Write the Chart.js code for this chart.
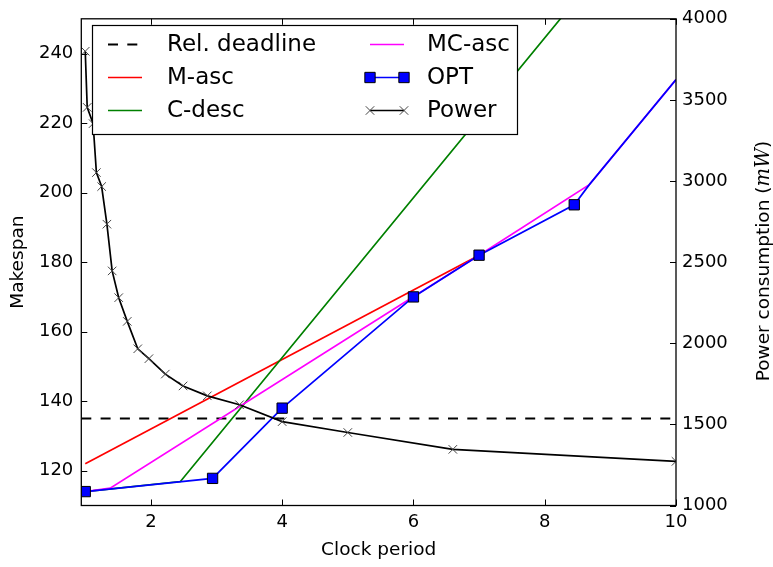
<!DOCTYPE html>
<html>
<head>
<meta charset="utf-8">
<script src="https://cdn.jsdelivr.net/npm/chart.js@4.4.0/dist/chart.umd.min.js"></script>
<style>
  html, body { margin: 0; padding: 0; background: #fff; }
</style>
</head>
<body>
<canvas id="chart" width="773" height="567"></canvas>
<script>
  // axis ranges / ticks
  const xMin = 0.94, xMax = 10;
  const xTicks = [2, 4, 6, 8, 10];
  const yTicks = [120, 140, 160, 180, 200, 220, 240];
  const y2Ticks = [1000, 1500, 2000, 2500, 3000, 3500, 4000];

  // series
  const deadlineX = [xMin, xMax];
  const deadlineY = [135, 135];

  const mAscX = [1, 7];
  const mAscY = [122, 182];

  const cDescX = [1, 2.45, 10];
  const cDescY = [114, 116.9, 290.5];

  const mcAscX = [1, 1.38, 7, 8.68, 10];
  const mcAscY = [114, 115, 182, 202.3, 232.5];

  const optX = [1, 2.94, 4, 6, 7, 8.45, 8.68, 10];
  const optY = [114, 117.8, 138, 170, 182, 196.5, 202.3, 232.5];
  const optMarker = [1, 1, 1, 1, 1, 1, 0, 0];

  const powerX = [1, 1.03, 1.12, 1.17, 1.25, 1.33, 1.41, 1.51, 1.64, 1.8, 1.97, 2.22, 2.49, 2.86, 3.35, 4, 5, 6.6, 10];
  const powerY = [3800, 3454, 3354, 3052, 2966, 2734, 2446, 2281, 2135, 1966, 1905, 1810, 1737, 1676, 1621, 1517, 1450, 1346, 1272];

  const pts = (xs, ys) => xs.map((x, i) => ({ x: x, y: ys[i] }));
  const FONT = '"DejaVu Sans", sans-serif';

  // inward ticks + frame, like matplotlib
  const frameTicks = {
    id: 'frameTicks',
    afterDatasetsDraw(chart) {
      const { ctx, chartArea: a, scales } = chart;
      const len = 6;
      ctx.save();
      ctx.strokeStyle = '#000';
      ctx.lineWidth = 1;
      ctx.beginPath();
      xTicks.forEach(v => {
        const px = Math.round(scales.x.getPixelForValue(v)) + 0.5;
        ctx.moveTo(px, a.bottom); ctx.lineTo(px, a.bottom - len);
        ctx.moveTo(px, a.top); ctx.lineTo(px, a.top + len);
      });
      yTicks.forEach(v => {
        const py = Math.round(scales.y.getPixelForValue(v)) + 0.5;
        ctx.moveTo(a.left, py); ctx.lineTo(a.left + len, py);
      });
      y2Ticks.forEach(v => {
        const py = Math.round(scales.y2.getPixelForValue(v)) + 0.5;
        ctx.moveTo(a.right, py); ctx.lineTo(a.right - len, py);
      });
      ctx.stroke();
      ctx.lineWidth = 1.3;
      ctx.strokeRect(a.left, a.top, a.right - a.left, a.bottom - a.top);
      ctx.restore();
    }
  };

  // two-column legend inside the plot + right axis title
  const boxLegend = {
    id: 'boxLegend',
    afterDraw(chart) {
      const ctx = chart.ctx;
      const sets = chart.data.datasets;
      ctx.save();
      ctx.fillStyle = '#fff';
      ctx.fillRect(92.5, 25.5, 425, 109);
      ctx.strokeStyle = '#000';
      ctx.lineWidth = 1.2;
      ctx.strokeRect(92.5, 25.5, 425, 109);
      ctx.font = '23px ' + FONT;
      ctx.textBaseline = 'middle';
      const handleX = [108, 370], textX = [167, 427], rowY = [44.5, 77.5, 110.5];
      sets.forEach((ds, i) => {
        const c = Math.floor(i / 3), r = i % 3;
        const x0 = handleX[c], x1 = x0 + 34, y = rowY[r];
        ctx.strokeStyle = ds.borderColor;
        ctx.lineWidth = ds.borderWidth;
        ctx.setLineDash(ds.borderDash || []);
        ctx.beginPath(); ctx.moveTo(x0, y); ctx.lineTo(x1, y); ctx.stroke();
        ctx.setLineDash([]);
        if (ds.legendRadius) {
          [x0, x1].forEach(px => {
            ctx.fillStyle = ds.pointBackgroundColor;
            ctx.strokeStyle = ds.pointBorderColor;
            ctx.lineWidth = ds.pointBorderWidth;
            Chart.helpers.drawPoint(ctx, { pointStyle: ds.pointStyle, radius: ds.legendRadius, rotation: 0, borderWidth: ds.pointBorderWidth }, px, y);
          });
        }
        ctx.fillStyle = '#000';
        ctx.font = '23px ' + FONT;
        ctx.fillText(ds.label, textX[c], y + 1);
      });

      // right axis title, reads bottom to top
      const parts = [['Power consumption (', '18.5px ' + FONT], ['mW', 'italic 19.5px "DejaVu Serif", serif'], [')', '18.5px ' + FONT]];
      let total = 0;
      parts.forEach(p => { ctx.font = p[1]; total += ctx.measureText(p[0]).width; });
      ctx.translate(764, 261);
      ctx.rotate(-Math.PI / 2);
      ctx.textAlign = 'left';
      ctx.fillStyle = '#000';
      let cx = -total / 2;
      parts.forEach(p => { ctx.font = p[1]; ctx.fillText(p[0], cx, 0); cx += ctx.measureText(p[0]).width; });
      ctx.restore();
    }
  };

  new Chart(document.getElementById('chart').getContext('2d'), {
    type: 'line',
    data: {
      datasets: [
        { label: 'Rel. deadline', data: pts(deadlineX, deadlineY), borderColor: '#000', borderWidth: 2, borderDash: [10, 9.3], pointRadius: 0, yAxisID: 'y', order: 6 },
        { label: 'M-asc', data: pts(mAscX, mAscY), borderColor: '#ff0000', borderWidth: 1.7, pointRadius: 0, yAxisID: 'y', order: 5 },
        { label: 'C-desc', data: pts(cDescX, cDescY), borderColor: '#008000', borderWidth: 1.7, pointRadius: 0, yAxisID: 'y', order: 4 },
        { label: 'MC-asc', data: pts(mcAscX, mcAscY), borderColor: '#ff00ff', borderWidth: 1.7, pointRadius: 0, yAxisID: 'y', order: 3 },
        { label: 'OPT', data: pts(optX, optY), borderColor: '#0000ff', borderWidth: 1.7, pointStyle: 'rect',
          pointRadius: optMarker.map(m => m ? 7.3 : 0), legendRadius: 7.3,
          pointBackgroundColor: '#0000ff', pointBorderColor: '#000', pointBorderWidth: 1, yAxisID: 'y', order: 2 },
        { label: 'Power', data: pts(powerX, powerY), borderColor: '#000', borderWidth: 1.7, pointStyle: 'crossRot',
          pointRadius: 6, legendRadius: 6,
          pointBackgroundColor: '#444', pointBorderColor: '#444', pointBorderWidth: 1, yAxisID: 'y2', order: 1 }
      ]
    },
    options: {
      responsive: false,
      animation: false,
      events: [],
      layout: { padding: { top: 15, left: 0, right: 0, bottom: 0 } },
      elements: { line: { tension: 0 } },
      plugins: { legend: { display: false }, tooltip: { enabled: false } },
      scales: {
        x: {
          type: 'linear', min: xMin, max: xMax,
          afterBuildTicks: s => { s.ticks = xTicks.map(v => ({ value: v })); },
          afterFit: s => { s.height = 61.5; },
          grid: { display: false, drawTicks: false },
          border: { display: false },
          ticks: { color: '#000', padding: 6, font: { family: FONT, size: 18 }, callback: v => String(v) },
          title: { display: true, text: 'Clock period', color: '#000', font: { family: FONT, size: 18.5 }, padding: { top: 0, bottom: 6 } }
        },
        y: {
          type: 'linear', position: 'left', min: 110, max: 250,
          afterBuildTicks: s => { s.ticks = yTicks.map(v => ({ value: v })); },
          afterFit: s => { s.width = 81.3; },
          grid: { display: false, drawTicks: false },
          border: { display: false },
          ticks: { color: '#000', padding: 8, font: { family: FONT, size: 18 }, callback: v => String(v) },
          title: { display: true, text: 'Makespan', color: '#000', font: { family: FONT, size: 18.5 }, padding: { top: 7, bottom: 0 } }
        },
        y2: {
          type: 'linear', position: 'right', min: 1000, max: 4000,
          afterBuildTicks: s => { s.ticks = y2Ticks.map(v => ({ value: v })); },
          afterFit: s => { s.width = 97; },
          grid: { display: false, drawTicks: false },
          border: { display: false },
          ticks: { color: '#000', padding: 6, font: { family: FONT, size: 18 }, callback: v => String(v) }
        }
      }
    },
    plugins: [frameTicks, boxLegend]
  });
</script>
</body>
</html>
